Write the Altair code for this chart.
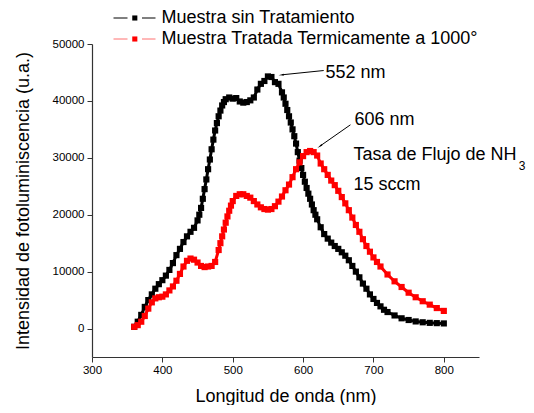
import altair as alt
import pandas as pd

# ---- data ----
black_nm = [360, 365, 370, 375, 380, 385, 390, 395, 400, 405, 410, 415, 420, 425, 430, 435, 440, 445, 450,
            452.5, 455, 457.5, 460, 462.5, 465, 467.5, 470, 472.5, 475, 477.5, 480, 482.5, 485, 487.5, 490,
            495, 500, 505, 510, 515, 520, 525, 530, 535, 540, 545, 550, 555, 560, 565, 570,
            572.5, 575, 577.5, 580, 582.5, 585, 587.5, 590, 592.5, 595, 597.5, 600, 602.5, 605, 607.5, 610,
            612.5, 615, 617.5, 620, 625, 630, 635, 640, 645, 650, 655, 660, 665, 670, 675, 680, 685, 690,
            695, 700, 705, 710, 715, 720, 730, 740, 750, 760, 770, 780, 790, 800]
black_val = [300, 1200, 2400, 3800, 5000, 6000, 7000, 7800, 8500, 9300, 10300, 11500, 12900, 14000, 15200,
             16200, 17000, 17700, 19000,
             20000, 21200, 22800, 24500, 26200, 28000, 29700, 31500, 33200, 34800, 36100, 37300, 38300, 39200,
             39800, 40300,
             40600, 40400, 40500, 39900, 39700, 39800, 40100, 40600, 42000, 43000, 43500, 44300, 44200, 43300,
             43000, 41500,
             40600, 39500, 38400, 37300, 36200, 35000, 33800, 32500, 31000, 29500, 28200, 27000, 25800, 24700,
             23700, 22800,
             21800, 20800, 20000, 19200, 17800, 16600, 15800, 15100, 14500, 14000, 13400, 12800, 12000, 11000,
             10000, 9000, 7900, 7000,
             6000, 5200, 4500, 3900, 3300, 2900, 2300, 1800, 1500, 1250, 1100, 1000, 950, 900]

red_nm = [360, 365, 370, 375, 380, 385, 390, 395, 400, 405, 410, 415, 420, 425, 430, 435, 440, 445, 450, 455,
          460, 465, 470, 475, 480, 482.5, 485, 487.5, 490, 492.5, 495, 497.5, 500, 505, 510, 515, 520, 525,
          530, 535, 540, 545, 550, 555, 560, 565, 570, 575, 580, 585, 590, 595, 600, 605, 610, 615, 620, 625,
          630, 635, 640, 645, 650, 655, 660, 665, 670, 675, 680, 685, 690, 695, 700, 705, 710, 720, 730, 740,
          750, 760, 770, 780, 790, 800]
red_val = [300, 600, 1200, 2200, 3500, 4600, 5300, 5500, 5600, 6000, 6700, 7400, 8400, 9600, 10900, 11900,
           12300, 12100, 11600, 11000,
           10800, 10900, 11000, 11700, 13800, 15000, 16200, 17400, 18600, 19700, 20700, 21600, 22400, 23300,
           23600, 23600, 23300, 23000,
           22400, 21800, 21300, 21000, 20900, 21000, 21500, 22300, 23200, 24300, 25300, 26600, 28000, 29200,
           30300, 31000, 31200, 31000, 30400, 29000,
           28000, 27000, 26000, 25200, 24200, 23100, 22000, 20800, 19500, 18200, 17000, 15700, 14500, 13500,
           12500, 11700, 10900, 9500, 8300, 7300,
           6300, 5500, 4800, 4200, 3600, 3100]

series_names = ["Muestra sin Tratamiento", "Muestra Tratada Termicamente a 1000°"]
series_colors = ["#000000", "#ff0000"]

x_ticks = [300, 350, 400, 450, 500, 550, 600, 650, 700, 750, 800, 850]
y_ticks = [0, 5000, 10000, 15000, 20000, 25000, 30000, 35000, 40000, 45000, 50000]

ann_text = ["552 nm", "606 nm", "Tasa de Flujo de NH", "15 sccm"]
ann_nm = [631.7, 672.9, 671.5, 671.5]
ann_val = [44890, 36680, 30530, 25250]

arrow_tail_nm = [629.3, 667.3]
arrow_tail_val = [45340, 35800]
arrow_tip_nm = [570.2, 624.6]
arrow_tip_val = [44590, 32110]
arrow_angle = [264, 235]

FONT = "Liberation Sans"

df = pd.concat([
    pd.DataFrame({"nm": black_nm, "val": black_val, "serie": series_names[0]}),
    pd.DataFrame({"nm": red_nm, "val": red_val, "serie": series_names[1]}),
], ignore_index=True)

x_enc = alt.X("nm:Q", scale=alt.Scale(domain=[300, 850], nice=False, zero=False),
              axis=alt.Axis(values=x_ticks, format="d", labelFlush=False,
                            labelExpr="datum.value % 100 === 0 ? datum.label : ''",
                            tickSize={"condition": {"test": "datum.value % 100 === 0", "value": 5}, "value": 3},
                            title="Longitud de onda (nm)", titlePadding=12, labelPadding=2))
y_enc = alt.Y("val:Q", scale=alt.Scale(domain=[-5000, 50000], nice=False, zero=False),
              axis=alt.Axis(values=y_ticks, format="d", labelFlush=False,
                            labelExpr="datum.value % 10000 === 0 ? datum.label : ''",
                            tickSize={"condition": {"test": "datum.value % 10000 === 0", "value": 5}, "value": 3},
                            title="Intensidad de fotoluminiscencia (u.a.)", titlePadding=20, labelPadding=3))
color_enc = alt.Color("serie:N", scale=alt.Scale(domain=series_names, range=series_colors), legend=None)

layers = []
for i, name in enumerate(series_names):
    sub = df[df["serie"] == name]
    base = alt.Chart(sub)
    layers.append(base.mark_line(strokeWidth=3).encode(x=x_enc, y=y_enc, color=color_enc))
    layers.append(base.mark_point(shape="square", filled=True, size=38, opacity=1).encode(
        x=x_enc, y=y_enc, color=color_enc))

ann_df = pd.DataFrame({"t": ann_text, "nm": ann_nm, "val": ann_val})
ann = alt.Chart(ann_df).mark_text(align="left", baseline="middle", fontSize=18, font=FONT, color="black").encode(
    x="nm:Q", y="val:Q", text="t:N")
sub_df = pd.DataFrame({"t": ["3"], "nm": [906.5], "val": [28500]})
sub3 = alt.Chart(sub_df).mark_text(align="left", baseline="middle", fontSize=12, font=FONT, color="black").encode(
    x="nm:Q", y="val:Q", text="t:N")

arr_df = pd.DataFrame({"x1": arrow_tail_nm, "y1": arrow_tail_val, "x2": arrow_tip_nm, "y2": arrow_tip_val,
                       "ang": arrow_angle})
arr_line = alt.Chart(arr_df).mark_rule(color="black", strokeWidth=1).encode(
    x="x1:Q", y="y1:Q", x2="x2:Q", y2="y2:Q")
arr_head = alt.Chart(arr_df).mark_point(shape="wedge", filled=True, size=40, color="black", opacity=1).encode(
    x="x2:Q", y="y2:Q", angle=alt.Angle("ang:Q", scale=None))

# manual legend above the plot
leg_layers = []
leg_y = [-26, -5]
leg_line_colors = ["#000000", "#ff7070"]
one = pd.DataFrame({"a": [0]})
for i, name in enumerate(series_names):
    c = series_colors[i]
    lc = leg_line_colors[i]
    leg_layers.append(alt.Chart(one).mark_rule(color=lc, strokeWidth=1).encode(
        x=alt.value(21.5), x2=alt.value(35.5), y=alt.value(leg_y[i])))
    leg_layers.append(alt.Chart(one).mark_rule(color=lc, strokeWidth=1).encode(
        x=alt.value(50), x2=alt.value(63.5), y=alt.value(leg_y[i])))
    leg_layers.append(alt.Chart(one).mark_point(
        shape="square", filled=True, size=26, color=c, opacity=1).encode(
        x=alt.value(42.8), y=alt.value(leg_y[i])))
    leg_layers.append(alt.Chart(one).mark_text(
        align="left", baseline="middle", fontSize=18, font=FONT, color="black").encode(
        x=alt.value(69.5), y=alt.value(leg_y[i]), text=alt.value(name)))

chart = alt.layer(*layers, ann, sub3, arr_line, arr_head, *leg_layers).properties(
    width=387, height=313,
    autosize=alt.AutoSizeParams(type="none"),
    padding={"left": 84, "top": 36, "right": 47, "bottom": 48},
    background="white",
).configure_view(stroke=None).configure_axis(
    grid=False, domainColor="#333333", tickColor="#333333", domainWidth=1.2,
    labelFont=FONT, labelFontSize=11.5, labelColor="black",
    titleFont=FONT, titleFontSize=18, titleFontWeight="normal", titleColor="black",
)

chart.save("out.html", embed_options={"renderer": "svg", "actions": False})
